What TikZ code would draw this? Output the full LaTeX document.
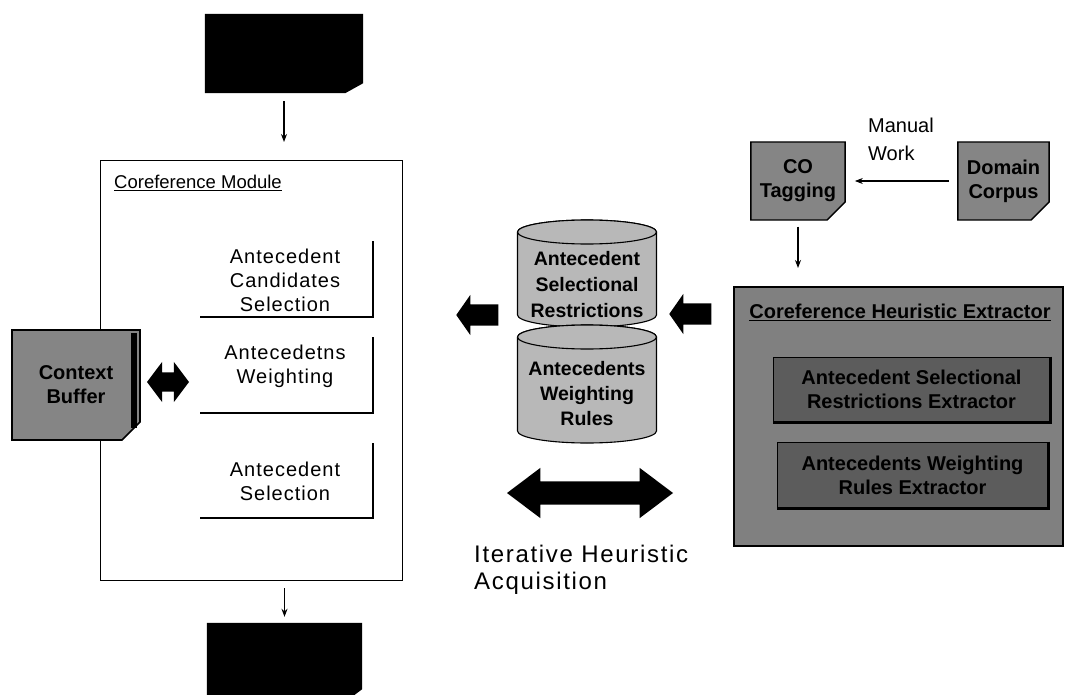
\documentclass[tikz,border=0pt]{standalone}
\usepackage{fontspec}
\setmainfont{Liberation Sans}
\usetikzlibrary{shapes.misc,shapes.arrows,arrows.meta}

\definecolor{boxgray}{gray}{0.52}
\definecolor{cylgray}{gray}{0.72}
\definecolor{extgray}{gray}{0.50}
\definecolor{innergray}{gray}{0.36}

\begin{document}
\begin{tikzpicture}[x=1pt,y=-1pt,
  txt/.style={align=center, inner sep=0,
    font=\fontsize{20}{24}\selectfont\addfontfeatures{LetterSpace=5}},
  btxt/.style={align=center, inner sep=0, font=\bfseries\fontsize{19.5}{25}\selectfont},
  thinarrow/.style={line width=1.1pt, -{Stealth[length=8pt,width=6pt]}},
  docframe/.style={rectangle, draw=none, inner sep=0},
  paper/.style={chamfered rectangle, chamfered rectangle corners=south east,
    chamfered rectangle xsep=9pt, chamfered rectangle ysep=9pt,
    fill=boxgray, draw=black, line width=1.4pt, inner sep=0, align=center,
    font=\bfseries\fontsize{20}{24}\selectfont},
  stepline/.style={line width=1.8pt},
  blockarrow/.style={fill=black, inner xsep=0pt},
  cylinder/.style={fill=cylgray, draw=black, line width=1.1pt},
  innerbox/.style={fill=innergray, draw=black, line width=1pt,
    inner sep=0, align=center, font=\bfseries\fontsize{20}{24}\selectfont}
]
\useasboundingbox[fill=white] (0,0) rectangle (1067,695);

% ---- input / output documents (black sheets with a clipped corner)
\node[docframe, minimum width=158, minimum height=79] (input) at (284,53.5) {};
\fill (input.north west) -- (input.north east) -- ([yshift=10pt]input.south east)
  -- ([xshift=-18pt]input.south east) -- (input.south west) -- cycle;
\node[docframe, minimum width=155, minimum height=72] (output) at (284.5,659) {};
\fill (output.north west) -- (output.north east) -- ([yshift=6pt]output.south east)
  -- ([xshift=-8pt]output.south east) -- (output.south west) -- cycle;

% ---- coreference module
\node[draw=black, line width=1pt, fill=white, anchor=north west,
      minimum width=302, minimum height=420, inner sep=0] (module) at (100,160) {};
\node[anchor=west, inner sep=0, font=\fontsize{18.5}{22}\selectfont] (modtitle)
  at (114,183) {\underline{Coreference Module}};

\node[txt] (cand) at (285,280) {Antecedent\\Candidates\\Selection};
\draw[stepline] (200,317) -- (373,317) -- (373,241);
\node[txt] (weight) at (285,366) {Antecedetns\\Weighting};
\draw[stepline] (200,413) -- (373,413) -- (373,337);
\node[txt] (select) at (285,481) {Antecedent\\Selection};
\draw[stepline] (200,518) -- (373,518) -- (373,443);

\draw[thinarrow, shorten <=8pt, shorten >=18pt] (input.south) -- (input.south |- module.north);
\draw[thinarrow, shorten <=7pt, shorten >=6pt] (output.north |- module.south) -- (output.north);

% ---- context buffer
\node[paper, minimum width=128, minimum height=110, line width=1.6pt] (buffer) at (76,385)
  {Context\\Buffer};
\draw[line width=6pt] (134,333) -- (134,428);
\node[double arrow, blockarrow, minimum height=42, inner ysep=9.5pt,
      double arrow head extend=10.5pt, double arrow tip angle=106] (bufarrow) at (168,382) {};

% ---- heuristic databases
\draw[cylinder] (517.5,232) -- (517.5,315) arc[start angle=180, end angle=0, x radius=69.5, y radius=12]
  -- (656.5,232) arc[start angle=0, end angle=-180, x radius=69.5, y radius=12] -- cycle;
\draw[cylinder] (587,232) ellipse[x radius=69.5, y radius=12];
\node[btxt, font=\bfseries\fontsize{19.5}{26}\selectfont] (restr) at (587,285)
  {Antecedent\\Selectional\\Restrictions};

\draw[cylinder] (517.5,337) -- (517.5,431) arc[start angle=180, end angle=0, x radius=69.5, y radius=12]
  -- (656.5,337) arc[start angle=0, end angle=-180, x radius=69.5, y radius=12] -- cycle;
\draw[cylinder] (587,337) ellipse[x radius=69.5, y radius=12];
\node[btxt] (rules) at (587,394) {Antecedents\\Weighting\\Rules};

\node[single arrow, blockarrow, shape border rotate=180, minimum height=42, inner ysep=10.5pt,
      single arrow head extend=9.5pt, single arrow tip angle=110] (toModule) at (481,315) {};
\node[single arrow, blockarrow, shape border rotate=180, minimum height=42, inner ysep=10.5pt,
      single arrow head extend=9.5pt, single arrow tip angle=110] (toBase) at (694,314) {};

\node[double arrow, blockarrow, minimum height=166, inner ysep=11.5pt,
      double arrow head extend=13.5pt, double arrow tip angle=74] (iterArrow) at (590,493) {};
\node[anchor=north west, align=left, inner sep=0,
      font=\fontsize{24}{27}\selectfont\addfontfeatures{LetterSpace=7}] (iterText)
  at (474,545) {Iterative Heuristic\\Acquisition};

% ---- manual tagging
\node[paper, minimum width=90, minimum height=78] (co) at (798,181) {CO\\Tagging};
\node[paper, minimum width=89, minimum height=78] (corpus) at (1003.5,181) {Domain\\Corpus};
\draw[thinarrow, shorten <=8pt, shorten >=9pt] (corpus.west) -- (co.east);
\node[anchor=north west, align=left, inner sep=0, font=\fontsize{20}{28}\selectfont] (manual)
  at (868,118) {Manual\\Work};

% ---- heuristic extractor
\node[draw=black, line width=1.6pt, fill=extgray, anchor=north west,
      minimum width=329, minimum height=259, inner sep=0] (extractor) at (733,286) {};
\node[inner sep=0, font=\bfseries\fontsize{20}{24}\selectfont] (exttitle) at (900,312)
  {\underline{Coreference Heuristic Extractor}};
\node[innerbox, minimum width=277, minimum height=65] (ex1) at (911.5,389.5)
  {Antecedent Selectional\\Restrictions Extractor};
\draw[line width=3pt] (ex1.north east) -- (ex1.south east) -- (ex1.south west);
\node[innerbox, minimum width=271, minimum height=66] (ex2) at (912.5,475)
  {Antecedents Weighting\\Rules Extractor};
\draw[line width=3pt] (ex2.north east) -- (ex2.south east) -- (ex2.south west);

\draw[thinarrow, shorten <=6pt, shorten >=18pt] (co.south) -- (co.south |- extractor.north);
\end{tikzpicture}
\end{document}
